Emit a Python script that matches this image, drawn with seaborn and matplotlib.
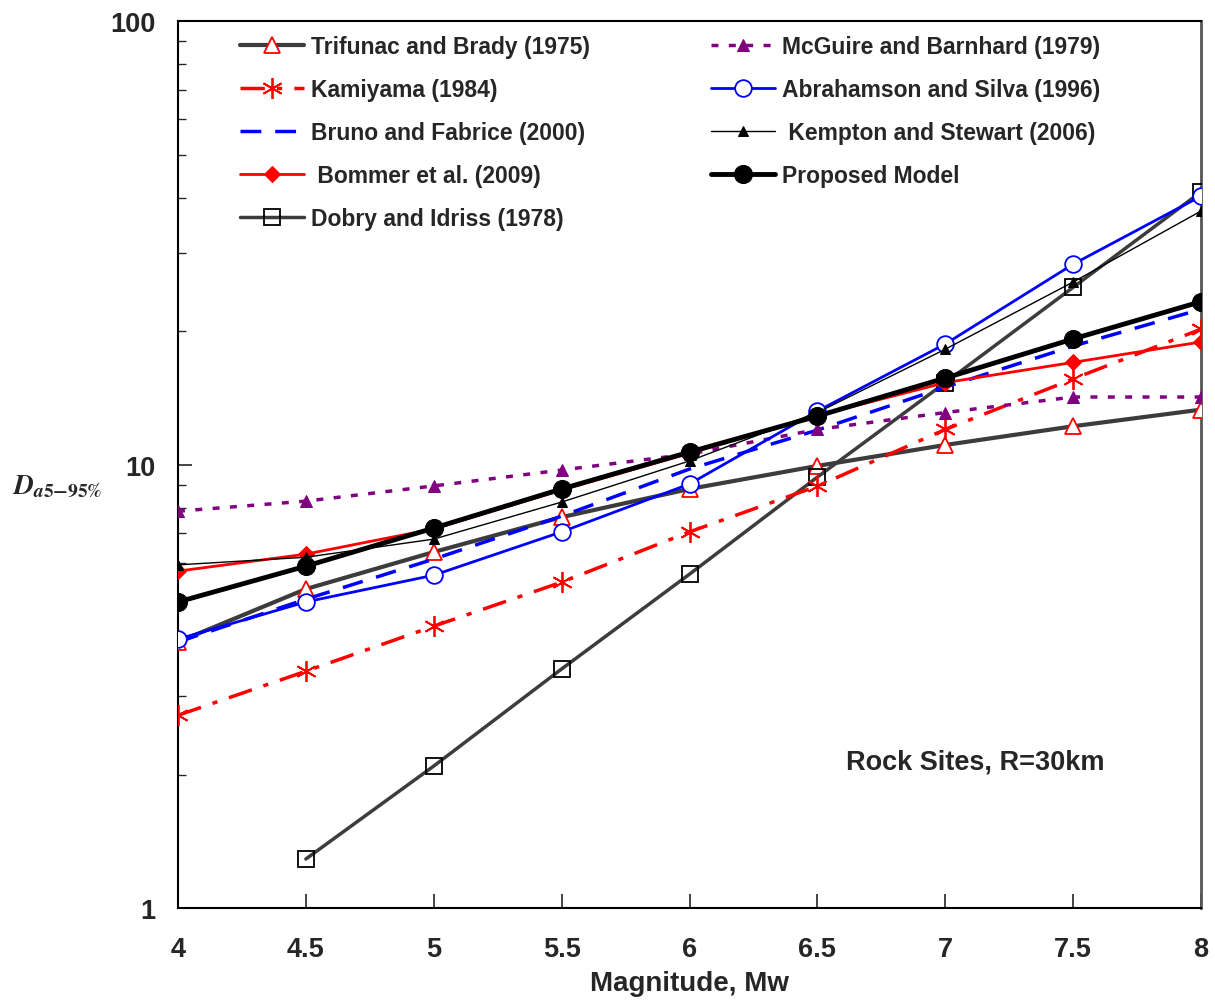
import matplotlib
matplotlib.use('Agg')
import matplotlib.pyplot as plt
import matplotlib.ticker as mticker
import seaborn as sns
import pandas as pd

# magnitudes
mw = [4.0, 4.5, 5.0, 5.5, 6.0, 6.5, 7.0, 7.5, 8.0]

# D_a5-95% (s)
trifunac = [3.98, 5.24, 6.35, 7.61, 8.81, 9.93, 11.07, 12.2, 13.3]
kamiyama = [2.72, 3.42, 4.32, 5.43, 7.05, 8.94, 12.0, 15.6, 20.2]
bruno = [3.98, 4.97, 6.12, 7.65, 9.77, 11.96, 14.95, 18.5, 22.4]
bommer = [5.75, 6.28, 7.16, 8.76, 10.6, 12.9, 15.3, 17.0, 18.9]
dobry_mw = [4.5, 5.0, 5.5, 6.0, 6.5, 7.0, 7.5, 8.0]
dobry = [1.29, 2.09, 3.46, 5.66, 9.37, 15.3, 25.1, 41.2]
mcguire = [7.85, 8.27, 8.95, 9.72, 10.56, 12.0, 13.1, 14.2, 14.2]
abrahamson = [4.04, 4.90, 5.63, 7.05, 9.04, 13.2, 18.7, 28.3, 40.3]
kempton = [5.94, 6.18, 6.79, 8.23, 10.19, 13.1, 18.2, 25.8, 37.3]
proposed = [4.90, 5.90, 7.19, 8.81, 10.67, 12.86, 15.67, 19.2, 23.3]

labels = ['Trifunac and Brady (1975)', 'Kamiyama (1984)', 'Bruno and Fabrice (2000)',
          ' Bommer et al. (2009)', 'Dobry and Idriss (1978)', 'McGuire and Barnhard (1979)',
          'Abrahamson and Silva (1996)', ' Kempton and Stewart (2006)', 'Proposed Model']

sns.set_style('ticks')
plt.rcParams['font.family'] = ['Liberation Sans', 'DejaVu Sans']
plt.rcParams['font.weight'] = 'bold'
plt.rcParams['mathtext.fontset'] = 'stix'

fig = plt.figure(figsize=(12.15, 10.04), dpi=100)
ax = fig.add_axes([0.1465, 0.0946, 0.842, 0.8834])

RED = '#ff0000'
BLUE = '#0000ff'
PURPLE = '#800080'
GRAY = '#3c3c3c'

sns.lineplot(x=mw, y=trifunac, ax=ax, color=GRAY, lw=3, marker='^', ms=12,
             mfc='white', mec=RED, mew=1.3, label=labels[0], zorder=3)
sns.lineplot(x=mw, y=kamiyama, ax=ax, color=RED, lw=2.5, linestyle=(0, (7, 3.5, 1.5, 3.5)),
             marker=(6, 2, 0), ms=15, mec=RED, mew=1.3, label=labels[1], zorder=4)
sns.lineplot(x=mw, y=bruno, ax=ax, color=BLUE, lw=2.5, linestyle=(0, (6, 4)),
             label=labels[2], zorder=4)
sns.lineplot(x=mw, y=bommer, ax=ax, color=RED, lw=2, marker='D', ms=8,
             mec=RED, label=labels[3], zorder=5)
sns.lineplot(x=dobry_mw, y=dobry, ax=ax, color=GRAY, lw=2.5, marker='s', ms=11,
             mfc='none', mec='black', mew=1.3, label=labels[4], zorder=3)
sns.lineplot(x=mw, y=mcguire, ax=ax, color=PURPLE, lw=2.5, linestyle=(0, (2, 3)),
             marker='^', ms=8, mec=PURPLE, label=labels[5], zorder=4)
sns.lineplot(x=mw, y=abrahamson, ax=ax, color=BLUE, lw=2, marker='o', ms=12,
             mfc='white', mec=BLUE, mew=1.3, label=labels[6], zorder=5)
sns.lineplot(x=mw, y=kempton, ax=ax, color='black', lw=1, marker='^', ms=7,
             mec='black', label=labels[7], zorder=5)
sns.lineplot(x=mw, y=proposed, ax=ax, color='black', lw=3.5, marker='o', ms=13,
             mec='black', label=labels[8], zorder=6)

ax.set_yscale('log')
ax.set_xlim(4, 8)
ax.set_ylim(1, 100)
ax.xaxis.set_major_locator(mticker.MultipleLocator(0.5))
ax.xaxis.set_major_formatter(mticker.FuncFormatter(lambda v, p: f'{v:g}'))
ax.yaxis.set_major_formatter(mticker.FuncFormatter(lambda v, p: f'{v:g}'))
ax.yaxis.set_minor_formatter(mticker.NullFormatter())
ax.tick_params(axis='both', which='both', direction='in', labelsize=19.5)
ax.tick_params(axis='x', which='major', length=10, width=1.2, pad=20)
ax.tick_params(axis='y', which='major', length=10, width=1.2, pad=16)
ax.tick_params(axis='y', which='minor', length=6, width=1)
ax.tick_params(right=False, top=False, which='both')
for s in ['left', 'bottom', 'top']:
    ax.spines[s].set_color('black')
    ax.spines[s].set_linewidth(1.5)
ax.spines['right'].set_color('#555555')
ax.spines['right'].set_linewidth(2)

ax.set_xlabel('Magnitude, Mw', fontsize=20, fontweight='bold', labelpad=6)
ax.set_ylabel('')
fig.text(0.01, 0.515, r'$D_{a5\mathrm{-}95\%}$', fontsize=20, ha='left', va='center')
ax.text(7.116, 2.14, 'Rock Sites, R=30km', fontsize=19.5, fontweight='bold',
        ha='center', va='center')

ax.legend(ncol=2, loc='upper left', bbox_to_anchor=(0.04, 1.008), frameon=False,
          handlelength=2.8, labelspacing=0.88, columnspacing=5.3,
          handletextpad=0.3, prop={'weight': 'bold', 'size': 16.5})

fig.savefig('out.png', dpi=100)
